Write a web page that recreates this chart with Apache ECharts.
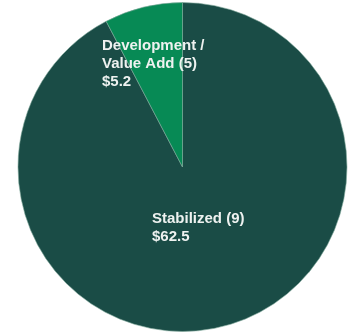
<!DOCTYPE html>
<html><head><meta charset="utf-8">
<script src="https://cdn.jsdelivr.net/npm/echarts@6/dist/echarts.min.js"></script>
<style>html,body{margin:0;padding:0;background:#fff}#c{width:350px;height:332px}</style>
</head><body><div id="c"></div>
<script>
var categories = ['Stabilized (9)', 'Development /\nValue Add (5)'];
var values = [62.5, 5.2];
var valueLabels = ['$62.5', '$5.2'];
var colors = ['#1a4c46', '#078a55'];
var labelSpots = [[152, 210], [102, 37]];

var chart = echarts.init(document.getElementById('c'));
chart.setOption({
  animation: false,
  series: [{
    type: 'pie',
    center: [182.5, 167],
    radius: 164.5,
    startAngle: 90,
    clockwise: true,
    silent: true,
    itemStyle: { borderWidth: 0.6, borderColor: '#7fa89a' },
    label: {
      show: true,
      position: 'inside',
      formatter: function (p) { return categories[p.dataIndex] + '\n' + valueLabels[p.dataIndex]; },
      color: '#eef2f0',
      fontFamily: 'Liberation Sans, Arial, sans-serif',
      fontWeight: 'bold',
      fontSize: 15,
      lineHeight: 18,
      align: 'left'
    },
    labelLayout: function (p) {
      var s = labelSpots[p.dataIndex];
      return { x: s[0], y: s[1], align: 'left', verticalAlign: 'top' };
    },
    data: values.map(function (v, i) {
      return { value: v, name: categories[i], itemStyle: { color: colors[i] } };
    })
  }]
});
</script></body></html>
